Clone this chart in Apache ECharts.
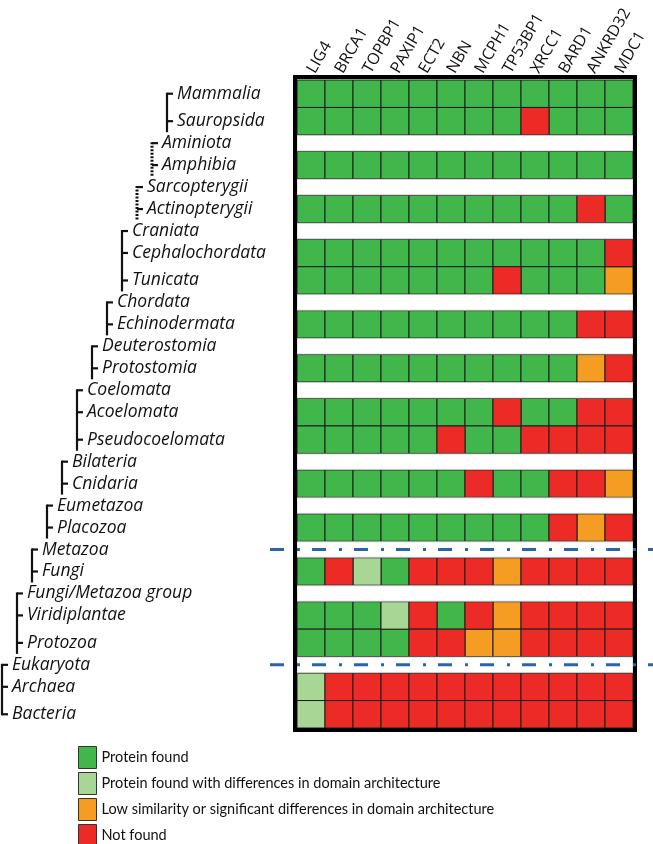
<!DOCTYPE html>
<html><head><meta charset="utf-8">
<script src="https://cdn.jsdelivr.net/npm/echarts@6/dist/echarts.min.js"></script>
<style>html,body{margin:0;padding:0;background:#fff}#c{width:653px;height:844px}</style>
</head><body><div id="c"></div>
<script>
// ---------- data ----------
const genes = ['LIG4','BRCA1','TOPBP1','PAXIP1','ECT2','NBN','MCPH1','TP53BP1','XRCC1','BARD1','ANKRD32','MDC1'];
const taxa = ['Mammalia','Sauropsida','Aminiota','Amphibia','Sarcopterygii','Actinopterygii','Craniata',
  'Cephalochordata','Tunicata','Chordata','Echinodermata','Deuterostomia','Protostomia','Coelomata',
  'Acoelomata','Pseudocoelomata','Bilateria','Cnidaria','Eumetazoa','Placozoa','Metazoa','Fungi',
  'Fungi/Metazoa group','Viridiplantae','Protozoa','Eukaryota','Archaea','Bacteria'];
// 0 found, 1 found w/ domain differences, 2 low similarity, 3 not found
const profiledTaxa = ['Mammalia','Sauropsida','Amphibia','Actinopterygii','Cephalochordata','Tunicata',
  'Echinodermata','Protostomia','Acoelomata','Pseudocoelomata','Cnidaria','Placozoa','Fungi',
  'Viridiplantae','Protozoa','Archaea','Bacteria'];
const profileStatus = [
  [0,0,0,0,0,0,0,0,0,0,0,0],
  [0,0,0,0,0,0,0,0,3,0,0,0],
  [0,0,0,0,0,0,0,0,0,0,0,0],
  [0,0,0,0,0,0,0,0,0,0,3,0],
  [0,0,0,0,0,0,0,0,0,0,0,3],
  [0,0,0,0,0,0,0,3,0,0,0,2],
  [0,0,0,0,0,0,0,0,0,0,3,3],
  [0,0,0,0,0,0,0,0,0,0,2,3],
  [0,0,0,0,0,0,0,3,0,0,3,3],
  [0,0,0,0,0,3,0,0,3,3,3,3],
  [0,0,0,0,0,0,3,0,0,3,3,2],
  [0,0,0,0,0,0,0,0,0,3,2,3],
  [0,3,1,0,3,3,3,2,3,3,3,3],
  [0,0,0,1,3,0,3,2,3,3,3,3],
  [0,0,0,0,3,3,2,2,3,3,3,3],
  [1,3,3,3,3,3,3,3,3,3,3,3],
  [1,3,3,3,3,3,3,3,3,3,3,3]
];
const statusLabels = ['Protein found','Protein found with differences in domain architecture',
  'Low similarity or significant differences in domain architecture','Not found'];
const statusColors = ['#41b64b','#a8d694','#f59d23','#ec2b27'];
const cladeMembers = [
  ['Mammalia','Sauropsida'],
  ['Aminiota','Amphibia'],
  ['Sarcopterygii','Actinopterygii'],
  ['Craniata','Cephalochordata','Tunicata'],
  ['Chordata','Echinodermata'],
  ['Deuterostomia','Protostomia'],
  ['Coelomata','Acoelomata','Pseudocoelomata'],
  ['Bilateria','Cnidaria'],
  ['Eumetazoa','Placozoa'],
  ['Metazoa','Fungi'],
  ['Fungi/Metazoa group','Viridiplantae','Protozoa'],
  ['Eukaryota','Archaea','Bacteria']
];
const cladeDotted = [false,true,true,false,false,false,false,false,false,false,false,false];
const separatorTaxa = ['Metazoa','Eukaryota'];

// ---------- layout helpers ----------
const DATA_UNITS = 5, GAP_UNITS = 3;
const rowStart = [], rowEnd = [];
let acc = 0;
taxa.forEach(t => {
  rowStart.push(acc);
  acc += profiledTaxa.includes(t) ? DATA_UNITS : GAP_UNITS;
  rowEnd.push(acc);
});
const totalUnits = acc;
const centerOf = t => { const i = taxa.indexOf(t); return (rowStart[i] + rowEnd[i]) / 2; };
const levelOf = {};
cladeMembers.forEach((g, gi) => g.forEach(t => levelOf[t] = cladeMembers.length - 1 - gi));

const TREE_LEFT = 2, LEVEL_STEP = 15, TICK = 6, FONT = '"Open Sans", "Noto Sans", sans-serif';

// cell data by status
const cellSeries = statusLabels.map((lab, s) => {
  const d = [];
  profiledTaxa.forEach((t, r) => {
    const i = taxa.indexOf(t);
    profileStatus[r].forEach((v, g) => { if (v === s) d.push([g, rowStart[i], rowEnd[i]]); });
  });
  return {
    type: 'custom', name: lab, coordinateSystem: 'cartesian2d', z: 2,
    itemStyle: { color: statusColors[s], borderColor: '#222', borderWidth: 1 },
    encode: { x: 0, y: [1, 2] },
    data: d,
    renderItem(params, api) {
      const g = api.value(0);
      const p0 = api.coord([g, api.value(1)]);
      const p1 = api.coord([g, api.value(2)]);
      const w = api.size([1, 0])[0];
      return { type: 'rect', shape: { x: p0[0] - w / 2, y: p0[1], width: w, height: p1[1] - p0[1] },
        style: { fill: statusColors[s], stroke: '#1c1c1c', lineWidth: 1 } };
    }
  };
});

const gapData = taxa.map((t, i) => [0, rowStart[i], rowEnd[i]]).filter((d, i) => !profiledTaxa.includes(taxa[i]));

const gapSeries = {
  type: 'custom', coordinateSystem: 'cartesian2d', z: 3, silent: true,
  encode: { x: 0, y: [1, 2] }, data: gapData,
  renderItem(params, api) {
    const cs = params.coordSys;
    const a = api.coord([0, api.value(1)]), b = api.coord([0, api.value(2)]);
    return { type: 'rect', shape: { x: cs.x, y: a[1] + 0.5, width: cs.width, height: b[1] - a[1] - 1 },
      style: { fill: '#fff', stroke: '#c8c8c8', lineWidth: 0.8 } };
  }
};

const frameSeries = {
  type: 'custom', coordinateSystem: 'cartesian2d', z: 4, silent: true,
  encode: { x: 0, y: 1 }, data: [[0, 0]],
  renderItem(params, api) {
    const cs = params.coordSys;
    return { type: 'rect', shape: { x: cs.x - 2, y: cs.y - 3, width: cs.width + 4, height: cs.height + 5 },
      style: { fill: 'none', stroke: '#000', lineWidth: 4 } };
  }
};

const sepSeries = {
  type: 'custom', coordinateSystem: 'cartesian2d', z: 5, silent: true,
  encode: { x: 0, y: 1 }, data: separatorTaxa.map(t => [0, centerOf(t)]),
  renderItem(params, api) {
    const cs = params.coordSys;
    const y = api.coord([0, api.value(1)])[1];
    return { type: 'line', shape: { x1: cs.x - 27, y1: y, x2: cs.x + cs.width + 20, y2: y },
      style: { stroke: '#2766ad', lineWidth: 3, lineDash: [14, 13, 3, 12] } };
  }
};

const labelSeries = {
  type: 'custom', coordinateSystem: 'cartesian2d', z: 5, silent: true,
  encode: { x: 0, y: 1 }, data: taxa.map(t => [0, centerOf(t), levelOf[t]]),
  renderItem(params, api) {
    const y = api.coord([0, api.value(1)])[1];
    const bx = TREE_LEFT + api.value(2) * LEVEL_STEP;
    return { type: 'group', children: [
      { type: 'line', shape: { x1: bx, y1: y, x2: bx + TICK, y2: y }, style: { stroke: '#111', lineWidth: 2.2 } },
      { type: 'text', style: { x: bx + 10, y: y, text: taxa[params.dataIndex], fill: '#111',
        font: 'italic 17.5px ' + FONT, verticalAlign: 'middle', align: 'left' } }
    ] };
  }
};

const bracketSeries = {
  type: 'custom', coordinateSystem: 'cartesian2d', z: 5, silent: true,
  encode: { x: 0, y: [1, 2] },
  data: cladeMembers.map((g, gi) => [0, centerOf(g[0]), centerOf(g[g.length - 1]), cladeMembers.length - 1 - gi, cladeDotted[gi] ? 1 : 0, gi === cladeMembers.length - 1 ? 1 : 0]),
  renderItem(params, api) {
    const y0 = api.coord([0, api.value(1)])[1];
    const y1 = api.coord([0, api.value(2)])[1];
    const bx = TREE_LEFT + api.value(3) * LEVEL_STEP;
    const dotted = api.value(4) === 1, last = api.value(5) === 1;
    return { type: 'line', shape: { x1: bx, y1: y0 - 1, x2: bx, y2: last ? y1 + 1 : y1 + 11 },
      style: { stroke: '#111', lineWidth: dotted ? 3 : 2.2, lineDash: dotted ? [2, 1.5] : null } };
  }
};

const chart = echarts.init(document.getElementById('c'), null, { renderer: 'canvas' });
chart.setOption({
  animation: false,
  backgroundColor: '#fff',
  grid: { left: 297, top: 80, width: 336, height: 648 },
  xAxis: { type: 'category', data: genes, position: 'top',
    axisLine: { show: false }, axisTick: { show: false }, splitLine: { show: false },
    axisLabel: { rotate: 60, margin: 8, fontSize: 16, fontFamily: FONT, color: '#111', interval: 0 } },
  yAxis: { type: 'value', inverse: true, min: 0, max: totalUnits, show: false },
  legend: { orient: 'vertical', left: 78, top: 746, height: 140, padding: 0, itemWidth: 18, itemHeight: 22, itemGap: 3,
    selectedMode: false, icon: 'rect',
    textStyle: { fontSize: 14.5, fontFamily: 'Lato, "Open Sans", sans-serif', color: '#111' },
    data: statusLabels.map((l, s) => ({ name: l, itemStyle: { color: statusColors[s], borderColor: '#333', borderWidth: 1 } })) },
  series: [...cellSeries, gapSeries, frameSeries, sepSeries, bracketSeries, labelSeries]
});
</script></body></html>
